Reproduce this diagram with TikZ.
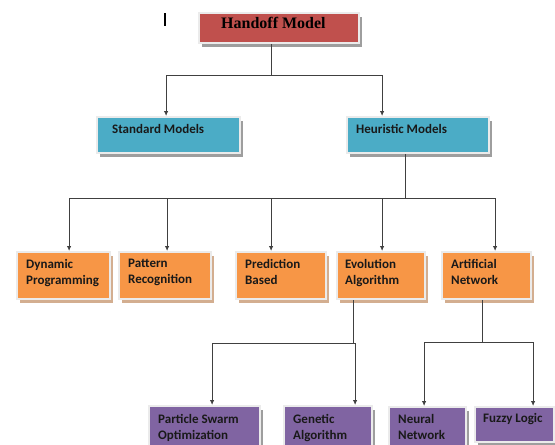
\documentclass[tikz,border=0pt]{standalone}
\usepackage{fontspec}
\setmainfont{Liberation Serif}
\newfontfamily\boxfont{Carlito}
\usetikzlibrary{positioning,shadows,arrows.meta}

\definecolor{hred}{HTML}{C0504D}
\definecolor{hblue}{HTML}{4BACC6}
\definecolor{horange}{HTML}{F79646}
\definecolor{hpurple}{HTML}{8064A2}
\definecolor{oshade}{HTML}{D3AE90}

\tikzset{
	box/.style = {
		anchor = north west,
		inner sep = 0pt,
		draw = white!92!black,
		line width = 2.2pt,
		drop shadow = {shadow xshift = 3pt, shadow yshift = -3.5pt, fill = #1, opacity = 1},
	},
	box/.default = black!38,
	bbox/.style = {box, fill = hblue, minimum height = 36pt},
	obox/.style = {box = oshade, fill = horange, minimum height = 47pt},
	pbox/.style = {box, fill = hpurple, minimum height = 48pt},
	txt/.style = {inner sep = 0pt, align = left, text = black!90, font = \boxfont\bfseries\fontsize{13}{16}\selectfont},
	ln/.style = {draw = black!75, line width = 0.9pt},
	arr/.style = {ln, -{Latex[length = 5pt, width = 4.5pt]}},
}

\begin{document}
\begin{tikzpicture}[x = 1pt, y = -1pt]
	
	\fill[white] (0,0) rectangle (555,445);
	\useasboundingbox (0,0) rectangle (555,445);
	\clip (0,0) rectangle (555,445);
	
	% top
	\node[
		box,
		fill = hred,
		minimum width = 160pt,
		minimum height = 30pt,
		name = hand,
	] at (198,12) {};
	\node[
		below right = 5pt and 23pt of hand.north west,
		inner sep = 0pt,
		font = \bfseries\fontsize{16}{19}\selectfont,
		name = hand-t,
	] {Handoff Model};
	
	\draw[line width = 1.6pt] (165,13) -- (165,26);
	
	% models
	\node[bbox, minimum width = 143pt, name = std] at (96,116) {};
	\node[bbox, minimum width = 142pt, name = heu] at (346,116) {};
	\node[txt, below right = 8pt and 16pt of std.north west, name = std-t] {Standard Models};
	\node[txt, below right = 8pt and 10pt of heu.north west, name = heu-t] {Heuristic Models};
	
	% heuristic kinds
	\node[obox, minimum width = 93pt, name = dyn] at (16,251) {};
	\node[obox, minimum width = 92pt, name = pat] at (118,251) {};
	\node[obox, minimum width = 90pt, name = pred] at (235,251) {};
	\node[obox, minimum width = 88pt, name = evo] at (336,251) {};
	\node[obox, minimum width = 89pt, name = art] at (441,251) {};
	\node[txt, below right = 8pt and 10pt of dyn.north west, name = dyn-t] {Dynamic\\Programming};
	\node[txt, below right = 8pt and 10pt of pat.north west, name = pat-t] {Pattern\\Recognition};
	\node[txt, below right = 8pt and 10pt of pred.north west, name = pred-t] {Prediction\\Based};
	\node[txt, below right = 8pt and 9pt of evo.north west, name = evo-t] {Evolution\\Algorithm};
	\node[txt, below right = 8pt and 10pt of art.north west, name = art-t] {Artificial\\Network};
	
	% bottom row
	\node[pbox, minimum width = 111pt, name = pso] at (148,405) {};
	\node[pbox, minimum width = 88pt, name = gen] at (283,405) {};
	\node[pbox, minimum width = 77pt, name = neu] at (388,406) {};
	\node[pbox, minimum width = 79pt, minimum height = 35pt, name = fuz] at (474,406) {};
	\node[txt, below right = 9pt and 10pt of pso.north west, name = pso-t] {Particle Swarm\\Optimization};
	\node[txt, below right = 9pt and 10pt of gen.north west, name = gen-t] {Genetic\\Algorithm};
	\node[txt, below right = 8pt and 10pt of neu.north west, name = neu-t] {Neural\\Network};
	\node[txt, below right = 7pt and 9pt of fuz.north west, name = fuz-t] {Fuzzy Logic};
	
	% connectors
	\coordinate (b0) at (271,75);
	\coordinate (b1) at (405,198);
	\coordinate (b2) at (353,343);
	\coordinate (b3) at (482,342);
	
	\draw[ln] (hand.south -| b0) -- (b0);
	\draw[arr] (b0) -| ([xshift = -2.5pt]std.north);
	\draw[arr] (b0) -| ([xshift = -36pt]heu.north);
	
	\draw[ln] (heu.south -| b1) -- (b1);
	\foreach \n/\dx in {dyn/5.5, pat/2, pred/-10, evo/1, art/8.5}
		\draw[arr] (b1) -| ([xshift = \dx pt]\n.north);
	
	\draw[ln] (evo.south -| b2) -- (b2);
	\draw[arr] (b2) -| ([xshift = 7.5pt]pso.north);
	\draw[arr] (b2) -| ([xshift = 27pt]gen.north);
	
	\draw[ln] (art.south -| b3) -- (b3);
	\draw[arr] (b3) -| ([xshift = -3.5pt]neu.north);
	\draw[arr] (b3) -| ([xshift = 18.5pt]fuz.north);
	
\end{tikzpicture}
\end{document}
